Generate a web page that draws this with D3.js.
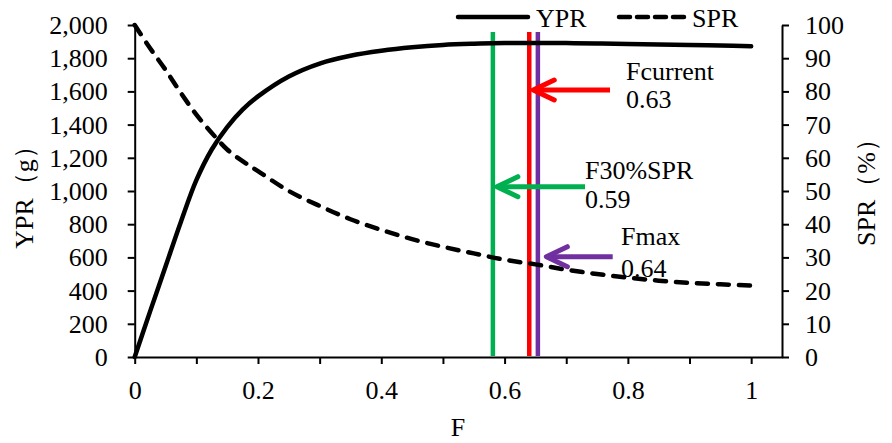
<!DOCTYPE html>
<html><head><meta charset="utf-8">
<script src="https://cdn.jsdelivr.net/npm/d3@7"></script>
<style>
html,body{margin:0;padding:0;background:#fff;}
svg{display:block;}
text{font-family:"Liberation Serif","Times New Roman",serif;fill:#000;}
</style></head>
<body>
<svg id="chart" width="892" height="443"></svg>
<script>
// Data
const F   = [0,0.025,0.05,0.075,0.1,0.125,0.15,0.175,0.2,0.25,0.3,0.35,0.4,0.45,0.5,0.55,0.6,0.65,0.7,0.75,0.8,0.85,0.9,0.95,1.0];
const YPR = [0,275,545,815,1065,1250,1385,1490,1570,1690,1768,1815,1845,1866,1880,1887,1891,1892,1891,1889,1886,1883,1880,1876,1872];
const SPR = [100,93,86.5,79.5,73,67.5,62.5,59,56,50,45.5,41.5,38.3,35.5,33.2,31.2,29.3,27.9,26.3,25,23.9,23,22.3,21.9,21.5];
const xTicks = [0,0.1,0.2,0.3,0.4,0.5,0.6,0.7,0.8,0.9,1.0];
const xLabels = ["0","","0.2","","0.4","","0.6","","0.8","","1"];
const yLeftTicks = [0,200,400,600,800,1000,1200,1400,1600,1800,2000];
const yRightTicks = [0,10,20,30,40,50,60,70,80,90,100];
const refNames = ["F30%SPR","Fcurrent","Fmax"];
const refValues = ["0.59","0.63","0.64"];
const refF = [0.581,0.640,0.654];
const refColors = ["#00B050","#FF0000","#7030A0"];

const svg = d3.select("#chart");
const W = 892, H = 443;
const x = d3.scaleLinear().domain([0,1.05]).range([134.7,782]);
const yL = d3.scaleLinear().domain([0,2000]).range([357,25]);
const yR = d3.scaleLinear().domain([0,100]).range([357,25]);
const FS = 26;

svg.append("rect").attr("width",W).attr("height",H).attr("fill","#fff");

// Axes
const gx = svg.append("g").attr("transform","translate(0,357)")
  .call(d3.axisBottom(x).tickValues(xTicks).tickSize(7).tickSizeOuter(0)
    .tickFormat((d,i)=>xLabels[i]));
gx.selectAll("text").attr("y",42).attr("dy","0").style("font-size",FS+"px").style("font-family","Liberation Serif");

const gl = svg.append("g").attr("transform","translate(134.7,0)")
  .call(d3.axisLeft(yL).tickValues(yLeftTicks).tickSize(7).tickSizeOuter(0).tickFormat(d3.format(",")));
gl.selectAll("text").attr("x",-27).attr("dy","0.33em").style("font-size",FS+"px").style("font-family","Liberation Serif");

const gr = svg.append("g").attr("transform","translate(782,0)")
  .call(d3.axisRight(yR).tickValues(yRightTicks).tickSize(7).tickSizeOuter(0));
gr.selectAll("text").attr("x",23).attr("dy","0.33em").style("font-size",FS+"px").style("font-family","Liberation Serif");

[gx,gl,gr].forEach(g=>{
  g.select(".domain").attr("stroke","#000").attr("stroke-width",2);
  g.selectAll(".tick line").attr("stroke","#000").attr("stroke-width",2);
});

// Axis titles
svg.append("text").attr("transform","translate(33,191) rotate(-90)").attr("text-anchor","middle")
  .style("font-size",FS+"px").text("YPR（g）");
svg.append("text").attr("transform","translate(875,186) rotate(-90)").attr("text-anchor","middle")
  .style("font-size",FS+"px").text("SPR（%）");
svg.append("text").attr("x",458).attr("y",436).attr("text-anchor","middle")
  .style("font-size",FS+"px").text("F");

// Reference vertical lines
refF.forEach((f,i)=>{
  svg.append("line").attr("x1",x(f)).attr("x2",x(f)).attr("y1",32).attr("y2",356)
    .attr("stroke",refColors[i]).attr("stroke-width",4.5);
});

// Curves
const pts = F.map((f,i)=>({f, ypr:YPR[i], spr:SPR[i]}));
const curve = d3.curveCatmullRom.alpha(0.5);
svg.append("path").datum(pts)
  .attr("d", d3.line().x(d=>x(d.f)).y(d=>yR(d.spr)).curve(curve))
  .attr("fill","none").attr("stroke","#000").attr("stroke-width",4.5)
  .attr("stroke-dasharray","11,10").attr("stroke-linecap","round");
svg.append("path").datum(pts)
  .attr("d", d3.line().x(d=>x(d.f)).y(d=>yL(d.ypr)).curve(curve))
  .attr("fill","none").attr("stroke","#000").attr("stroke-width",4.5)
  .attr("stroke-linecap","round");

// Annotations: arrows and labels
const ann = [
  {i:0, tipOff:4, tail:585, y:186.7, tx:585, ty1:179, ty2:208},
  {i:1, tipOff:4, tail:610, y:90,    tx:626, ty1:80,  ty2:108},
  {i:2, tipOff:8.5, tail:612.7, y:256.7, tx:621, ty1:245, ty2:276.7}
];
ann.forEach(a=>{
  const tip = x(refF[a.i]) + a.tipOff;
  const c = refColors[a.i];
  const g = svg.append("g").attr("stroke",c).attr("stroke-width",5).attr("stroke-linecap","round").attr("fill","none");
  g.append("line").attr("x1",a.tail).attr("x2",tip+2).attr("y1",a.y).attr("y2",a.y).attr("stroke-linecap","butt");
  g.append("path").attr("d",`M${tip+21},${a.y-10}L${tip},${a.y}L${tip+21},${a.y+10}`).attr("stroke-linejoin","round");
  svg.append("text").attr("x",a.tx).attr("y",a.ty1).style("font-size",FS+"px").text(refNames[a.i]);
  svg.append("text").attr("x",a.tx).attr("y",a.ty2).style("font-size",FS+"px").text(refValues[a.i]);
});

// Legend
svg.append("line").attr("x1",458).attr("x2",528).attr("y1",17).attr("y2",17)
  .attr("stroke","#000").attr("stroke-width",4.5).attr("stroke-linecap","round");
svg.append("text").attr("x",536).attr("y",27).style("font-size",FS+"px").text("YPR");
svg.append("line").attr("x1",619).attr("x2",685).attr("y1",17).attr("y2",17)
  .attr("stroke","#000").attr("stroke-width",4.5).attr("stroke-linecap","round")
  .attr("stroke-dasharray","11,7");
svg.append("text").attr("x",692).attr("y",27).style("font-size",FS+"px").text("SPR");
</script>
</body></html>
